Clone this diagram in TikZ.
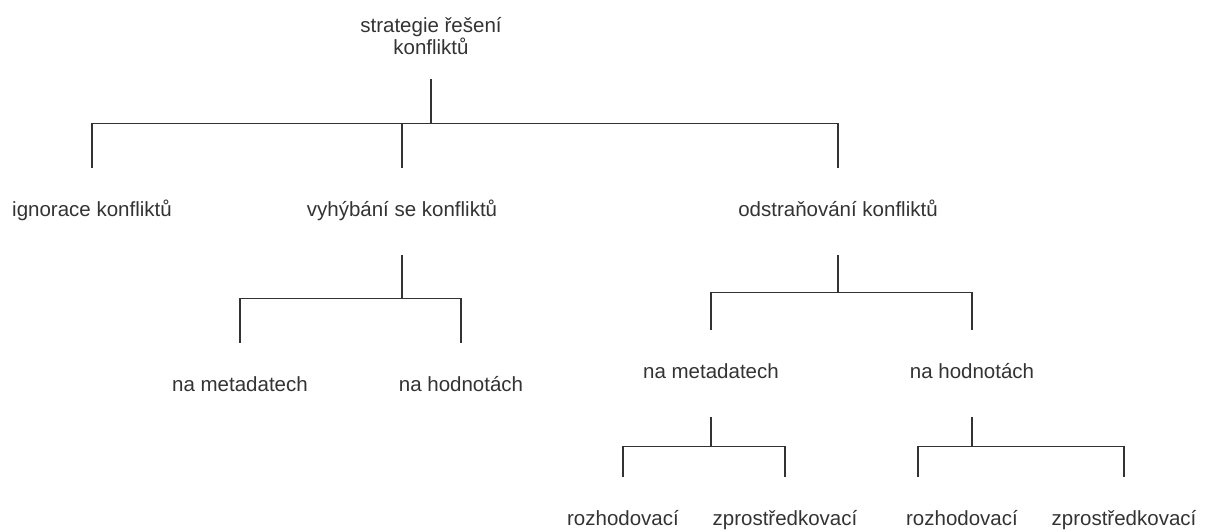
\documentclass[tikz,border=0pt]{standalone}
\usepackage{fontspec}
\setmainfont{Liberation Sans}
\usetikzlibrary{calc}

\tikzset{
  rootlbl/.style={inner sep=0pt, minimum height=43pt, align=center,
    text=black!80, font=\fontsize{10.25}{11}\selectfont},
  lbl/.style={rootlbl, text height=7.6pt, text depth=2.2pt},
  fork/.style={draw=black!80, line width=0.7pt},
}

\begin{document}
\begin{tikzpicture}[x=0.5pt, y=-0.5pt]
  \useasboundingbox (0,0) rectangle (1211,531);

  % Root
  \node[rootlbl] (root) at (431,36) {strategie řešení\\konfliktů};

  % First level
  \node[lbl] (ign) at (92,211.5) {ignorace konfliktů};
  \node[lbl] (vyh) at (402,211.5) {vyhýbání se konfliktů};
  \node[lbl] (odst) at (838,211.5) {odstraňování konfliktů};

  % Second level under avoiding
  \node[lbl] (vmeta) at (240,386) {na metadatech};
  \node[lbl] (vhod) at (461,386) {na hodnotách};

  % Second level under removing
  \node[lbl] (ometa) at (711,373.5) {na metadatech};
  \node[lbl] (ohod) at (972,373.5) {na hodnotách};

  % Third level
  \node[lbl] (mroz) at (623,520) {rozhodovací};
  \node[lbl] (mzpr) at (785,520) {zprostředkovací};
  \node[lbl] (hroz) at (962,520) {rozhodovací};
  \node[lbl] (hzpr) at (1124,520) {zprostředkovací};

  % Forks from root
  \draw[fork] (root.south) |- ($(root.south)!0.5!(ign.north)$) -| (ign.north);
  \draw[fork] (root.south) |- ($(root.south)!0.5!(vyh.north)$) -| (vyh.north);
  \draw[fork] (root.south) |- ($(root.south)!0.5!(odst.north)$) -| (odst.north);

  % Forks from avoiding
  \draw[fork] (vyh.south) |- ($(vyh.south)!0.5!(vmeta.north)$) -| (vmeta.north);
  \draw[fork] (vyh.south) |- ($(vyh.south)!0.5!(vhod.north)$) -| (vhod.north);

  % Forks from removing
  \draw[fork] (odst.south) |- ($(odst.south)!0.5!(ometa.north)$) -| (ometa.north);
  \draw[fork] (odst.south) |- ($(odst.south)!0.5!(ohod.north)$) -| (ohod.north);

  % Forks to the methods
  \draw[fork] (ometa.south) |- ($(ometa.south)!0.5!(mroz.north)$) -| (mroz.north);
  \draw[fork] (ometa.south) |- ($(ometa.south)!0.5!(mzpr.north)$) -| (mzpr.north);
  \draw[fork] (ohod.south) |- ($(ohod.south)!0.5!(hroz.north)$) -| ([xshift=-22pt]hroz.north);
  \draw[fork] (ohod.south) |- ($(ohod.south)!0.5!(hzpr.north)$) -| (hzpr.north);
\end{tikzpicture}
\end{document}
